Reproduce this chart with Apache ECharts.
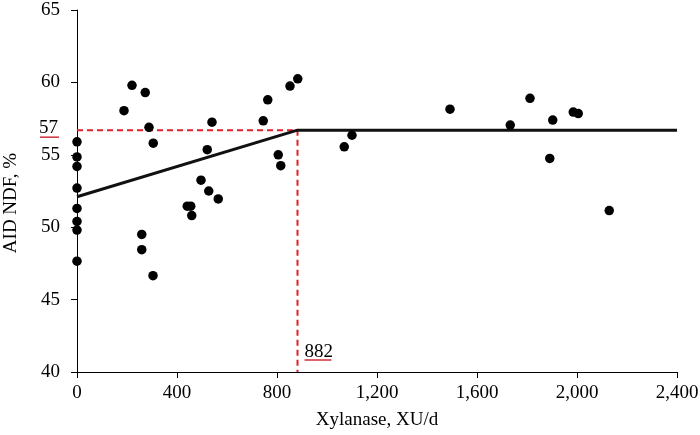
<!DOCTYPE html>
<html><head><meta charset="utf-8">
<script src="https://cdn.jsdelivr.net/npm/echarts@6/dist/echarts.min.js"></script>
<style>html,body{margin:0;padding:0;background:#fff}#c{width:700px;height:435px}</style>
</head><body><div id="c"></div>
<script>
const xTicks = [0, 400, 800, 1200, 1600, 2000, 2400];
const yTicks = [40, 45, 50, 55, 60, 65];
const obsX = [0,0,0,0,0,0,0,0,188,220,273,288,305,259,259,304,441,455,459,496,521,527,540,565,745,763,805,815,852,883,1069,1100,1492,1733,1812,1891,1903,1985,2005,2129];
const obsY = [55.9,54.85,54.2,52.7,51.3,50.4,49.8,47.65,58.05,59.8,59.3,56.9,55.8,49.5,48.45,46.65,51.45,51.45,50.8,53.25,55.35,52.5,57.25,51.95,57.35,58.8,55.0,54.25,59.75,60.25,55.55,56.35,58.15,57.05,58.9,54.75,57.4,57.95,57.85,51.15];
const fitX = [0, 882, 2400];
const fitY = [52.1, 56.7, 56.7];
const breakX = 882;
const plateauY = 56.7;
const plateauLabel = '57';
const breakLabel = '882';

const FONT = 'Liberation Serif';
const FS = 19;
const chart = echarts.init(document.getElementById('c'), null, {renderer: 'canvas'});
const pts = obsX.map((x, i) => [x, obsY[i]]);
const fit = fitX.map((x, i) => [x, fitY[i]]);
const red = [[0, plateauY], [breakX, plateauY], [breakX, yTicks[0]]];

chart.setOption({
  animation: false,
  grid: {left: 77, right: 23, top: 10, bottom: 63, containLabel: false, outerBoundsMode: 'none'},
  xAxis: {
    type: 'value', min: xTicks[0], max: xTicks[xTicks.length - 1], interval: 400,
    name: 'Xylanase, XU/d', nameLocation: 'middle', nameGap: 48, nameMoveOverlap: false,
    nameTextStyle: {fontFamily: FONT, fontSize: FS, color: '#000', verticalAlign: 'middle'},
    axisLine: {lineStyle: {color: '#000', width: 1}},
    axisTick: {show: true, length: 6, lineStyle: {color: '#000'}},
    axisLabel: {fontFamily: FONT, fontSize: FS, color: '#000', margin: 12,
      formatter: v => v.toLocaleString('en-US')},
    splitLine: {show: false}
  },
  yAxis: {
    type: 'value', min: yTicks[0], max: yTicks[yTicks.length - 1], interval: 5,
    name: 'AID NDF, %', nameLocation: 'middle', nameGap: 66, nameRotate: 90, nameMoveOverlap: false,
    nameTextStyle: {fontFamily: FONT, fontSize: FS, color: '#000', verticalAlign: 'middle', padding: [0, 24, 0, 0]},
    axisLine: {show: true, lineStyle: {color: '#000', width: 1}},
    axisTick: {show: true, length: 6, lineStyle: {color: '#000'}},
    axisLabel: {fontFamily: FONT, fontSize: FS, color: '#000', margin: 17},
    splitLine: {show: false}
  },
  series: [
    {type: 'line', data: red, symbol: 'none', silent: true, z: 1,
      lineStyle: {color: '#e0202a', width: 2, type: [6, 4]}},
    {type: 'line', data: fit, symbol: 'none', silent: true, z: 2,
      lineStyle: {color: '#111', width: 3}},
    {type: 'scatter', data: pts, symbol: 'circle', symbolSize: 9.5, z: 3,
      itemStyle: {color: '#000', opacity: 1}}
  ]
});

const p57 = chart.convertToPixel({gridIndex: 0}, [0, plateauY]);
const p882 = chart.convertToPixel({gridIndex: 0}, [breakX, yTicks[0]]);
const f = FS + 'px "' + FONT + '"';
chart.setOption({
  graphic: [
    {type: 'text', x: p57[0] - 19, y: p57[1] - 2, style: {text: plateauLabel, font: f, fill: '#000', textAlign: 'right', textVerticalAlign: 'middle'}},
    {type: 'line', shape: {x1: p57[0] - 37, y1: p57[1] + 7, x2: p57[0] - 18, y2: p57[1] + 7}, style: {stroke: '#d0303a', lineWidth: 1.5}},
    {type: 'text', x: p882[0] + 7, y: p882[1] - 20, style: {text: breakLabel, font: f, fill: '#000', textAlign: 'left', textVerticalAlign: 'middle'}},
    {type: 'line', shape: {x1: p882[0] + 7, y1: p882[1] - 12, x2: p882[0] + 34, y2: p882[1] - 12}, style: {stroke: '#d0303a', lineWidth: 1.5}}
  ]
});
</script></body></html>
